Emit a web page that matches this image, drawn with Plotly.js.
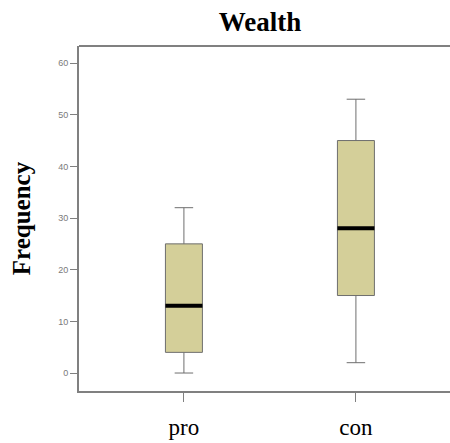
<!DOCTYPE html>
<html>
<head>
<meta charset="utf-8">
<script src="https://cdn.plot.ly/plotly-3.0.1.min.js"></script>
<style>html,body{margin:0;padding:0;background:#fff;}</style>
</head>
<body>
<div id="chart" style="width:450px;height:443px;"></div>
<script>
const categories = ["pro", "con"];
const lowerWhisker = [0, 2];
const q1Values = [4, 15];
const medianValues = [13, 28];
const q3Values = [25, 45];
const upperWhisker = [32, 53];
const yTicks = [0, 10, 20, 30, 40, 50, 60];

const boxTrace = {
  type: "box",
  x: categories,
  q1: q1Values,
  median: medianValues,
  q3: q3Values,
  lowerfence: lowerWhisker,
  upperfence: upperWhisker,
  width: 0.215,
  whiskerwidth: 0.5,
  fillcolor: "#d4cf99",
  line: {color: "#6e6e6e", width: 1},
  boxpoints: false,
  hoverinfo: "skip",
  showlegend: false
};
const medianTrace = {
  type: "box",
  x: categories,
  q1: medianValues,
  median: medianValues,
  q3: medianValues,
  lowerfence: medianValues,
  upperfence: medianValues,
  width: 0.215,
  whiskerwidth: 0,
  fillcolor: "rgba(0,0,0,0)",
  line: {color: "#000000", width: 4},
  boxpoints: false,
  hoverinfo: "skip",
  showlegend: false
};

const layout = {
  width: 450,
  height: 443,
  margin: {l: 79, r: 0, t: 46, b: 52},
  paper_bgcolor: "#ffffff",
  plot_bgcolor: "#ffffff",
  boxmode: "overlay",
  title: {
    text: "<b>Wealth</b>",
    font: {family: "Liberation Serif, Times New Roman, serif", size: 27, color: "#000"},
    x: 0.578, xanchor: "center", y: 0.952, yanchor: "middle"
  },
  shapes: [{
    type: "line", xref: "paper", yref: "paper",
    x0: 0, x1: 1, y0: 1, y1: 1,
    line: {color: "#808080", width: 2}
  }],
  xaxis: {
    type: "category",
    range: [-0.61, 1.547],
    showline: true, linecolor: "#808080", linewidth: 2,
    mirror: false,
    ticks: "outside", ticklen: 9, tickcolor: "#808080", tickwidth: 1,
    ticklabelstandoff: 5,
    tickfont: {family: "Liberation Serif, Times New Roman, serif", size: 23, color: "#000"},
    showgrid: false, zeroline: false,
    fixedrange: true
  },
  yaxis: {
    range: [-3.48, 63.3],
    tickvals: yTicks,
    ticktext: yTicks.map(String),
    showline: true, linecolor: "#808080", linewidth: 2,
    ticks: "outside", ticklen: 7, tickcolor: "#808080", tickwidth: 1,
    tickfont: {family: "Liberation Sans, Arial, sans-serif", size: 9, color: "#7a7a7a"},
    showgrid: false, zeroline: false,
    title: {
      text: "<b>Frequency</b>",
      font: {family: "Liberation Serif, Times New Roman, serif", size: 25, color: "#000"},
      standoff: 20
    },
    fixedrange: true
  }
};

Plotly.newPlot("chart", [boxTrace, medianTrace], layout, {displayModeBar: false, staticPlot: true});
</script>
</body>
</html>
